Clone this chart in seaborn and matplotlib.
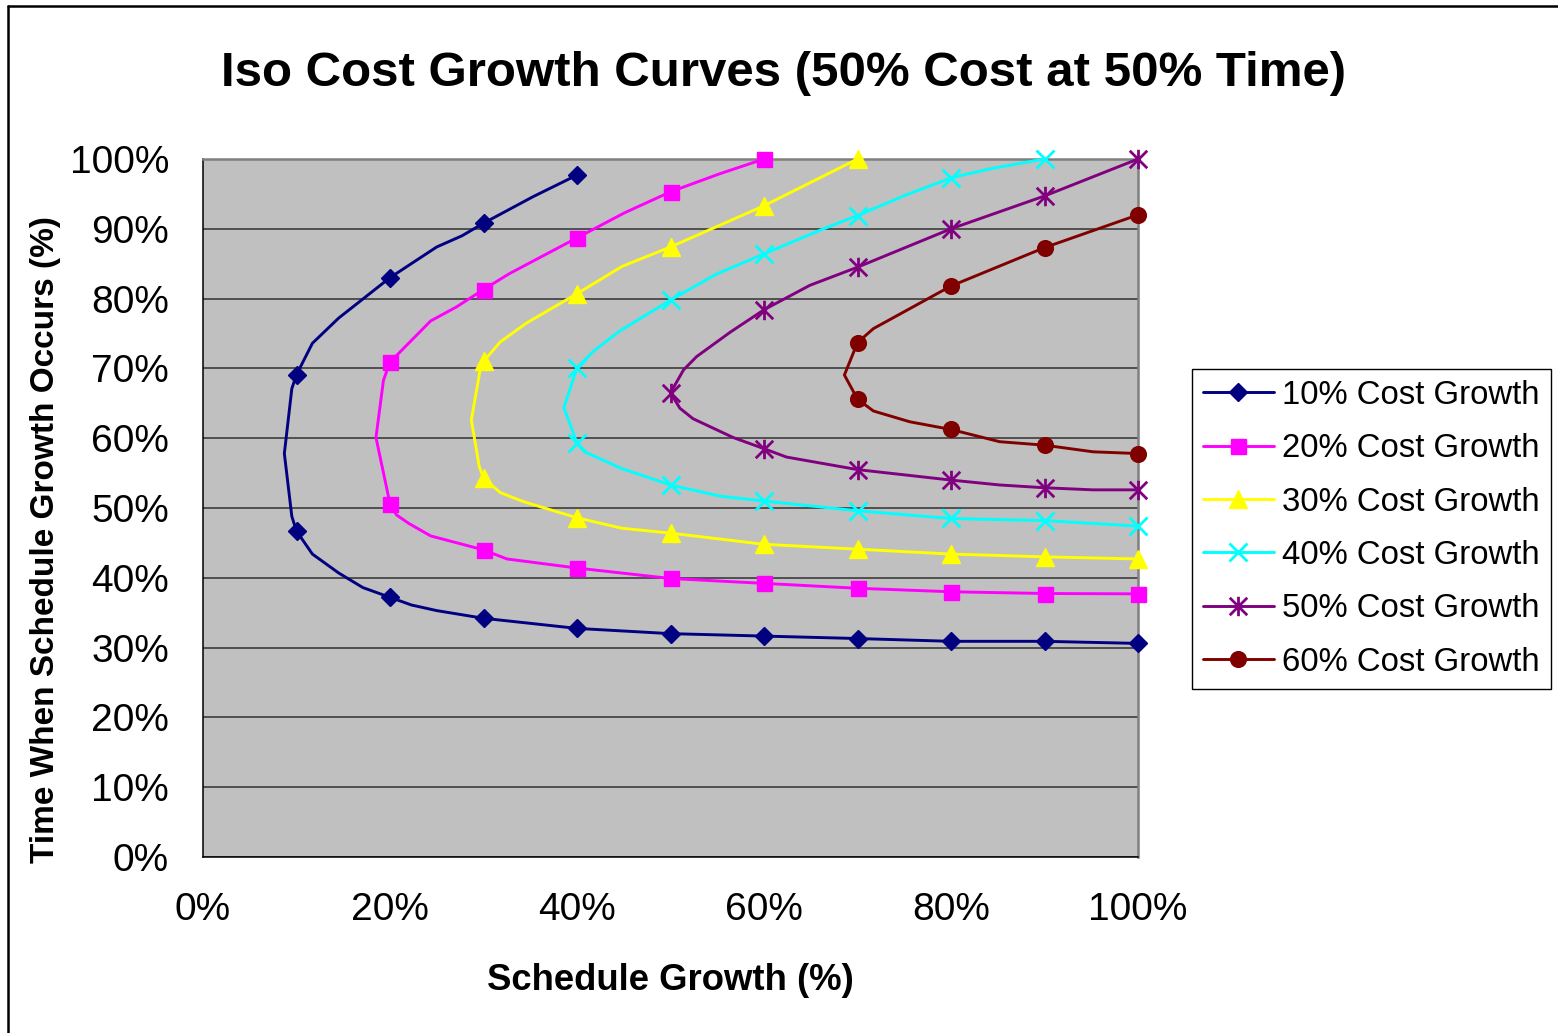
import matplotlib
matplotlib.use("Agg")
import matplotlib.pyplot as plt
from matplotlib.path import Path
from matplotlib.lines import Line2D
import seaborn as sns

# Iso cost growth paths: schedule growth (%) vs. time when the growth occurs (%).
# Each path runs from its upper end, round the nose, out along the lower branch.
# mark_* flags the points that carry a marker.
x10 = [40, 35.3, 30, 27.7, 25, 20, 14.5, 11.7, 10, 9.5, 8.7, 9.5, 10, 11.7, 14.5, 17.1,
       20, 22.3, 25, 30, 40, 50, 60, 70, 80, 90, 100]
y10 = [97.7, 94.6, 90.8, 89.0, 87.4, 83.0, 77.2, 73.6, 69.1, 67.1, 57.8, 48.8, 46.7, 43.4,
       40.7, 38.6, 37.2, 36.1, 35.3, 34.2, 32.75, 32.0, 31.65, 31.3, 30.9, 30.9, 30.6]
mark10 = [1, 0, 1, 0, 0, 1, 0, 0, 1, 0, 0, 0, 1, 0, 0, 0, 1, 0, 0, 1, 1, 1, 1, 1, 1, 1, 1]

x20 = [60, 55.3, 50, 45.1, 40, 32.8, 30, 27.1, 24.35, 20, 19.3, 18.5, 20, 20.7, 22.0, 24.35,
       30, 32.5, 40, 50, 60, 70, 80, 90, 100]
y20 = [100, 97.9, 95.3, 92.3, 88.7, 83.6, 81.3, 78.8, 76.8, 70.9, 68.3, 60.1, 50.6, 49.0,
       47.8, 46.0, 44.0, 42.7, 41.4, 39.9, 39.2, 38.5, 38.0, 37.75, 37.7]
mark20 = [1, 0, 1, 0, 1, 0, 1, 0, 0, 1, 0, 0, 1, 0, 0, 0, 1, 0, 1, 1, 1, 1, 1, 1, 1]

x30 = [70, 60, 50, 44.8, 40, 34.6, 31.8, 30, 29.6, 28.7, 29.55, 30, 31.8, 34.3, 40, 44.8,
       50, 60, 70, 80, 90, 100]
y30 = [100, 93.3, 87.4, 84.6, 80.7, 76.5, 73.8, 71.0, 69.5, 62.6, 55.9, 54.3, 52.2, 50.9,
       48.6, 47.1, 46.4, 44.8, 44.1, 43.4, 43.0, 42.7]
mark30 = [1, 1, 1, 0, 1, 0, 0, 1, 0, 0, 0, 1, 0, 0, 1, 0, 1, 1, 1, 1, 1, 1]

x40 = [90, 84.2, 80, 75.1, 70, 66.0, 60, 54.9, 50, 44.5, 41.8, 40, 38.6, 40, 40.8, 44.7,
       50, 55.3, 60, 70, 80, 90, 100]
y40 = [100, 98.6, 97.3, 94.8, 91.9, 89.8, 86.4, 83.5, 79.8, 75.3, 72.5, 70.1, 64.4, 59.3,
       58.05, 55.7, 53.3, 51.7, 51.0, 49.6, 48.5, 48.2, 47.4]
mark40 = [1, 0, 1, 0, 1, 0, 1, 0, 1, 0, 0, 1, 0, 1, 0, 0, 1, 0, 1, 1, 1, 1, 1]

x50 = [100, 90, 80, 70, 64.9, 60, 56.4, 52.8, 51.4, 50, 51.0, 52.4, 56.7, 60, 62.4, 70,
       80, 85.2, 90, 95.2, 100]
y50 = [100, 94.7, 90.0, 84.5, 81.9, 78.4, 75.2, 71.7, 69.8, 66.5, 64.3, 62.8, 60.1, 58.5,
       57.3, 55.5, 54.0, 53.3, 52.9, 52.6, 52.6]
mark50 = [1, 1, 1, 1, 0, 1, 0, 0, 0, 1, 0, 0, 0, 1, 0, 1, 1, 0, 1, 0, 1]

x60 = [100, 90, 80, 71.7, 70, 68.6, 70, 71.7, 75.6, 80, 85.2, 90, 95.2, 100]
y60 = [92.0, 87.3, 81.8, 75.7, 73.7, 69.05, 65.6, 63.9, 62.35, 61.25, 59.5, 59.0, 58.05, 57.8]
mark60 = [1, 1, 1, 0, 1, 0, 1, 0, 0, 1, 0, 1, 0, 1]

labels = ["10% Cost Growth", "20% Cost Growth", "30% Cost Growth",
          "40% Cost Growth", "50% Cost Growth", "60% Cost Growth"]
x_ticks = [0, 20, 40, 60, 80, 100]
y_ticks = [0, 10, 20, 30, 40, 50, 60, 70, 80, 90, 100]

# Excel-style asterisk: an "x" crossed by a vertical bar
asterisk = Path([(0, -1), (0, 1), (-0.9, -0.9), (0.9, 0.9), (-0.9, 0.9), (0.9, -0.9)],
                [Path.MOVETO, Path.LINETO] * 3)

styles = [
    dict(color="#000080", marker="D", markersize=9.6, mew=1.0),
    dict(color="#FF00FF", marker="s", markersize=10.8, mew=1.0),
    dict(color="#FFFF00", marker="^", markersize=13.5, mew=1.0),
    dict(color="#00FFFF", marker="x", markersize=13.0, mew=2.0),
    dict(color="#800080", marker=asterisk, markersize=14.0, mew=2.0),
    dict(color="#800000", marker="o", markersize=11.3, mew=1.0),
]
paths = [(x10, y10, mark10), (x20, y20, mark20), (x30, y30, mark30),
         (x40, y40, mark40), (x50, y50, mark50), (x60, y60, mark60)]

sns.set_theme(style="white")
plt.rcParams["font.family"] = ["Liberation Sans", "DejaVu Sans"]
plt.rcParams["text.color"] = "black"
plt.rcParams["axes.labelcolor"] = "black"

W, H = 1558, 1033
fig = plt.figure(figsize=(W / 100, H / 100), dpi=100)
fig.patch.set_facecolor("white")
ax = fig.add_axes([203 / W, 1 - 857 / H, (1138 - 203) / W, (857 - 159) / H])
ax.set_facecolor("#C0C0C0")

LW = 2.1
handles = []
for (xs, ys, flags), st in zip(paths, styles):
    sns.lineplot(x=xs, y=ys, sort=False, estimator=None, ax=ax, legend=False,
                 color=st["color"], linewidth=LW, marker=st["marker"],
                 markersize=st["markersize"], markevery=[bool(f) for f in flags],
                 markerfacecolor=st["color"], markeredgecolor=st["color"],
                 markeredgewidth=st["mew"], clip_on=False, zorder=3)
    handles.append(Line2D([], [], color=st["color"], linewidth=LW, marker=st["marker"],
                          markersize=st["markersize"], markerfacecolor=st["color"],
                          markeredgecolor=st["color"], markeredgewidth=st["mew"]))

ax.set_xlim(0, 100)
ax.set_ylim(0, 100)
ax.set_xticks(x_ticks)
ax.set_yticks(y_ticks)
ax.set_xticklabels([f"{v}%" for v in x_ticks])
ax.set_yticklabels([f"{v}%" for v in y_ticks])
ax.yaxis.grid(True, color="#3c3c3c", linewidth=1.2)
ax.xaxis.grid(False)
ax.set_axisbelow(True)

for side in ("top", "right"):
    ax.spines[side].set_color("#808080")
    ax.spines[side].set_linewidth(1.8)
for side in ("left", "bottom"):
    ax.spines[side].set_color("black")
    ax.spines[side].set_linewidth(1.1)

ax.tick_params(axis="both", direction="out", length=9.5, width=1.0, color="black",
               labelsize=28, labelcolor="black")
ax.tick_params(axis="y", pad=15)
ax.tick_params(axis="x", pad=16)

ax.set_xlabel("Schedule Growth (%)", fontsize=26.3, fontweight="bold", color="black")
ax.xaxis.label.set_va("center")
ax.xaxis.set_label_coords(0.5, (857 - 980) / 698)
ax.set_ylabel("Time When Schedule Growth Occurs (%)", fontsize=24, fontweight="bold",
              color="black")
ax.yaxis.label.set_va("center")
ax.yaxis.set_label_coords((46 - 203) / 935, (857 - 540) / 698)

fig.text(784 / W, 1 - 73 / H, "Iso Cost Growth Curves (50% Cost at 50% Time)",
         fontsize=35.5, fontweight="bold", ha="center", va="center", color="black")

leg = ax.legend(handles, labels, loc="upper left", bbox_to_anchor=(1192 / W, 1 - 369 / H),
                bbox_transform=fig.transFigure, borderaxespad=0, fontsize=23.7,
                handlelength=2.16, handletextpad=0.25, labelspacing=0.68, borderpad=0.33,
                frameon=True, fancybox=False, framealpha=1, edgecolor="black",
                labelcolor="black")
leg.get_frame().set_linewidth(1.0)
leg.get_frame().set_facecolor("white")

# outer chart frame (top and left edges fall inside the image)
fig.add_artist(Line2D([8 / W, 1], [1 - 6 / H, 1 - 6 / H], transform=fig.transFigure,
                      color="black", linewidth=1.8))
fig.add_artist(Line2D([8 / W, 8 / W], [0, 1 - 6 / H], transform=fig.transFigure,
                      color="black", linewidth=1.8))

fig.savefig("out.png", dpi=100)
